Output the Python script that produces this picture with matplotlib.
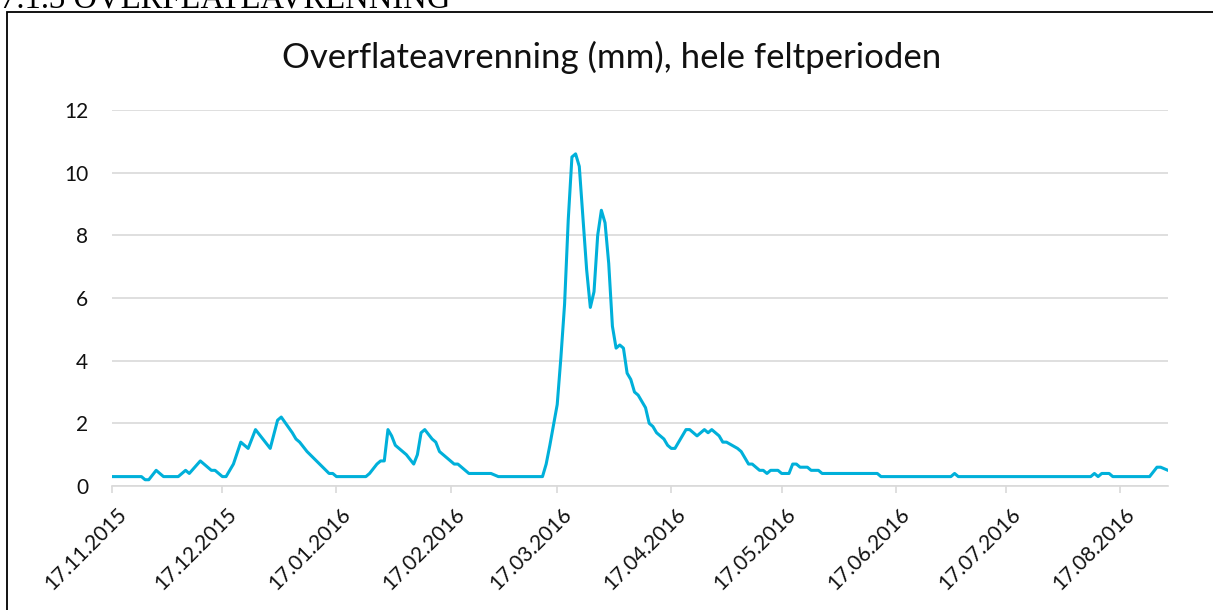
import matplotlib
matplotlib.use("Agg")
import matplotlib.pyplot as plt
import matplotlib.dates as mdates
import matplotlib.transforms as mtransforms
from matplotlib.patches import Rectangle
import pandas as pd

###############################################################################
# Data

START = "2015-11-17"

# days after 17.11.2015 where the line changes direction
days = [0, 8, 9, 10, 12, 14, 18, 20, 21, 24, 27, 28, 30, 31, 33, 35, 37, 39,
        41, 43, 45, 46, 49, 50, 51, 53, 59, 60, 61, 69, 70, 72, 73, 74, 75,
        76, 77, 78, 80, 82, 83, 84, 85, 87, 88, 89, 93, 94, 95, 97, 103, 105,
        117, 118, 119, 121, 122, 123, 124, 125, 126, 127, 129, 130, 131, 132,
        133, 134, 135, 136, 137, 138, 139, 140, 141, 142, 143, 145, 146, 147,
        148, 150, 151, 152, 153, 154, 156, 157, 159, 161, 162, 163, 165, 166,
        167, 170, 171, 172, 173, 174, 176, 177, 178, 179, 181, 182, 184, 185,
        186, 187, 189, 190, 192, 193, 208, 209, 228, 229, 230, 266, 267, 268,
        269, 271, 272, 282, 284, 285, 287]

runoff = [0.3, 0.3, 0.2, 0.2, 0.5, 0.3, 0.3, 0.5, 0.4, 0.8, 0.5, 0.5, 0.3, 0.3,
          0.7, 1.4, 1.2, 1.8, 1.5, 1.2, 2.1, 2.2, 1.7, 1.5, 1.4, 1.1, 0.4, 0.4,
          0.3, 0.3, 0.4, 0.7, 0.8, 0.8, 1.8, 1.6, 1.3, 1.2, 1.0, 0.7, 1.0, 1.7,
          1.8, 1.5, 1.4, 1.1, 0.7, 0.7, 0.6, 0.4, 0.4, 0.3,
          0.3, 0.7, 1.3, 2.6, 4.1, 5.8, 8.5, 10.5, 10.6, 10.2, 6.9, 5.7,
          6.2, 8.0, 8.8, 8.4, 7.1, 5.1, 4.4, 4.5, 4.4, 3.6, 3.4, 3.0, 2.9, 2.5,
          2.0, 1.9, 1.7, 1.5, 1.3, 1.2, 1.2, 1.4, 1.8, 1.8, 1.6, 1.8, 1.7, 1.8,
          1.6, 1.4, 1.4, 1.2, 1.1, 0.9, 0.7, 0.7, 0.5, 0.5, 0.4, 0.5, 0.5, 0.4,
          0.4, 0.7, 0.7, 0.6, 0.6, 0.5, 0.5, 0.4, 0.4, 0.3, 0.3, 0.4, 0.3, 0.3,
          0.4, 0.3, 0.4, 0.4, 0.3, 0.3, 0.6, 0.6, 0.5]

tick_dates = ["2015-11-17", "2015-12-17", "2016-01-17", "2016-02-17",
              "2016-03-17", "2016-04-17", "2016-05-17", "2016-06-17",
              "2016-07-17", "2016-08-17"]
y_ticks = [0, 2, 4, 6, 8, 10, 12]

TITLE = "Overflateavrenning (mm), hele feltperioden"
HEADER = "7.1.3 OVERFLATEAVRENNING"

###############################################################################

FONT = "Lato"
W, H = 1213, 610

dates = pd.Timestamp(START) + pd.to_timedelta(days, unit="D")

fig = plt.figure(figsize=(W / 100, H / 100), dpi=100)

# chart border (runs off the right and bottom edge of the page crop)
fig.patches.append(Rectangle((6.5 / W, -0.2), 1.2, 1.2 - 12 / H,
                             transform=fig.transFigure, fill=False,
                             edgecolor="black", linewidth=1.3))
# section header above the chart, only its lower part is inside the crop
fig.text(0.0, 1 - 7 / H, HEADER, family="Liberation Serif", fontsize=23.5,
         va="baseline", ha="left")

ax = fig.add_axes([112 / W, 124 / H, (1168 - 112) / W, (486 - 110) / H])

ax.plot(dates, runoff, color="#00B0DA", linewidth=2.2, solid_joinstyle="round")

ax.set_ylim(0, 12)
ax.set_yticks(y_ticks)
ax.set_xlim(dates[0], dates[-1])
ax.set_xticks(pd.to_datetime(tick_dates))
ax.xaxis.set_major_formatter(mdates.DateFormatter("%d.%m.%Y"))

ax.grid(axis="y", color="#D9D9D9", linewidth=1.2)
ax.set_axisbelow(True)
for s in ["top", "right", "left"]:
    ax.spines[s].set_visible(False)
ax.spines["bottom"].set_color("#D9D9D9")
ax.spines["bottom"].set_linewidth(1.2)

ax.tick_params(axis="y", length=0, pad=17, labelsize=15, labelcolor="#111111")
ax.tick_params(axis="x", length=5, width=1.2, color="#D9D9D9", pad=8,
               labelsize=15, labelcolor="#111111")
shift = mtransforms.ScaledTranslation(4 / 100, 0, fig.dpi_scale_trans)
for lbl in ax.get_xticklabels():
    lbl.set_rotation(45)
    lbl.set_ha("right")
    lbl.set_va("top")
    lbl.set_rotation_mode("anchor")
    lbl.set_transform(lbl.get_transform() + shift)
for lbl in ax.get_xticklabels() + ax.get_yticklabels():
    lbl.set_family(FONT)

fig.text(612 / W, 1 - 57 / H, TITLE, family=FONT, fontsize=25,
         ha="center", va="center", color="#111111")

fig.savefig("out.png", dpi=100)
